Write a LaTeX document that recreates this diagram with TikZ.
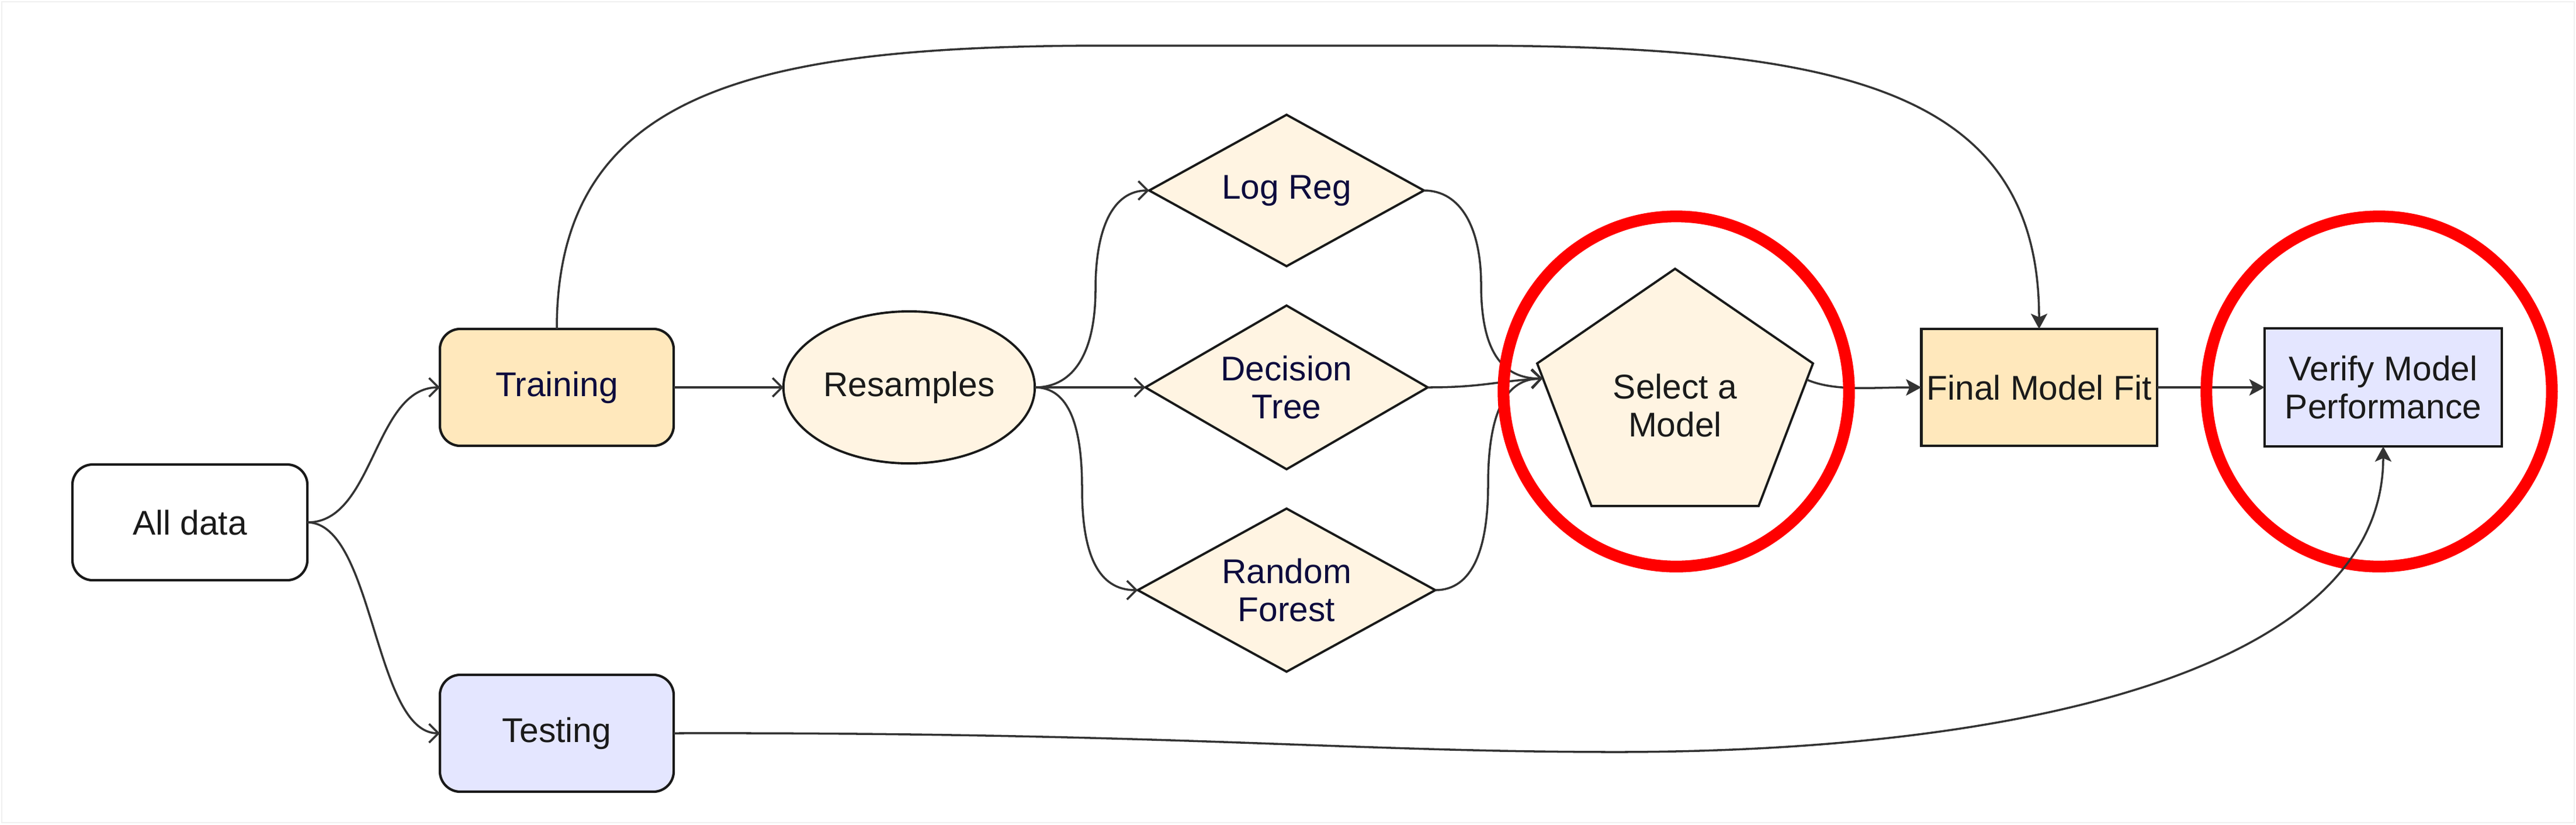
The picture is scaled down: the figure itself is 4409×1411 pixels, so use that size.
\documentclass[tikz,border=0pt]{standalone}
\usepackage{fontspec}
\setmainfont{Liberation Sans}
\usetikzlibrary{shapes.geometric,arrows.meta}
\definecolor{trainfill}{HTML}{FFE8BC}
\definecolor{creamfill}{HTML}{FFF4E2}
\definecolor{lavfill}{HTML}{E4E6FF}
\definecolor{edgecol}{HTML}{333333}
\definecolor{navy}{HTML}{0D0B3D}
\definecolor{txt}{HTML}{1A1A1A}
\definecolor{framecol}{HTML}{F0F0F0}
\begin{document}
\begin{tikzpicture}[x=0.01cm,y=-0.01cm,
  every node/.style={font=\fontsize{16.7pt}{18.5pt}\selectfont, text=txt, align=center, inner sep=0pt, outer sep=0pt},
  box/.style={draw=black!90, line width=1.2pt, minimum width=4cm, minimum height=2cm},
  rbox/.style={box, rounded corners=0.35cm},
  modelshape/.style={diamond, draw=black!90, line width=1.1pt, fill=creamfill, text=navy},
  hl/.style={ellipse, draw=red, line width=5.7pt, minimum width=5.91cm, minimum height=5.99cm},
  conn/.style={draw=edgecol, line width=1pt},
  openarr/.style={conn, -{Straight Barb[length=0.16cm,width=0.32cm]}},
  fillarr/.style={conn, -{Stealth[length=0.26cm,width=0.28cm,inset=0.06cm]}}
]
\useasboundingbox (0,0) rectangle (4409,1411);
\draw[framecol, line width=0.8pt] (3,3) rectangle (4406,1408);

% nodes
\node[rbox, fill=white, minimum width=4.02cm, minimum height=1.98cm] (alldata) at (325,894) {All data};
\node[rbox, fill=trainfill, text=navy] (training) at (953,663) {Training};
\node[rbox, fill=lavfill] (testing) at (953,1255) {Testing};
\node[ellipse, draw=black!90, line width=1.1pt, fill=creamfill, minimum width=4.3cm, minimum height=2.6cm] (res) at (1556,663) {Resamples};
\node[modelshape, aspect=1.81, minimum width=4.7cm, minimum height=2.59cm] (lr) at (2202,326) {Log Reg};
\node[modelshape, aspect=1.73, minimum width=4.83cm, minimum height=2.8cm] (dt) at (2202,663) {Decision\\Tree};
\node[modelshape, aspect=1.82, minimum width=5.09cm, minimum height=2.79cm] (rf) at (2202,1010) {Random\\Forest};

% pentagon "Select a Model"
\coordinate (p1) at (2867,460);
\coordinate (p2) at (3103,622);
\coordinate (p3) at (3010,866);
\coordinate (p4) at (2724,866);
\coordinate (p5) at (2631,622);
\draw[draw=black!90, line width=1.1pt, fill=creamfill, line join=miter] (p1) -- (p2) -- (p3) -- (p4) -- (p5) -- cycle;
\node (sel) at (2867,694) {Select a\\Model};
\coordinate (selin) at (2640,648);
\coordinate (selout) at (3093,650);

\node[box, fill=trainfill, minimum width=4.03cm] (fmf) at (3490,663) {Final Model Fit};
\node[box, fill=lavfill, minimum width=4.06cm, minimum height=2.02cm] (verify) at (4079,663) {Verify Model\\Performance};

% connectors
\draw[openarr] (alldata.east) .. controls (640,895) and (640,663) .. (training.west);
\draw[openarr] (alldata.east) .. controls (640,895) and (640,1255) .. (testing.west);
\draw[openarr] (training.east) -- (res.west);
\draw[openarr] (res.east) .. controls (1840,663) and (1875,600) .. (1875,495) .. controls (1875,390) and (1905,326) .. (lr.west);
\draw[openarr] (res.east) -- (dt.west);
\draw[openarr] (res.east) .. controls (1830,663) and (1852,730) .. (1852,836) .. controls (1852,950) and (1880,1010) .. (rf.west);
\draw[openarr] (lr.east) .. controls (2500,326) and (2535,390) .. (2535,487) .. controls (2535,600) and (2570,648) .. (selin);
\draw[openarr] (dt.east) .. controls (2540,663) and (2560,652) .. (selin);
\draw[openarr] (rf.east) .. controls (2520,1010) and (2547,940) .. (2547,829) .. controls (2547,700) and (2580,648) .. (selin);
\draw[fillarr] (selout) .. controls (3140,670) and (3200,663) .. (fmf.west);
\draw[fillarr] (fmf.east) -- (verify.west);
\draw[fillarr] (training.north) .. controls (953,150) and (1300,78) .. (1900,78) -- (2500,78) .. controls (3150,78) and (3490,150) .. (fmf.north);

% highlight rings
\node[hl] (hl1) at (2869,670) {};
\node[hl] (hl2) at (4072,670) {};

\draw[fillarr] (testing.east) .. controls (2000,1253) and (2300,1287) .. (2767,1287) .. controls (3450,1287) and (4079,1150) .. (verify.south);
\end{tikzpicture}
\end{document}
